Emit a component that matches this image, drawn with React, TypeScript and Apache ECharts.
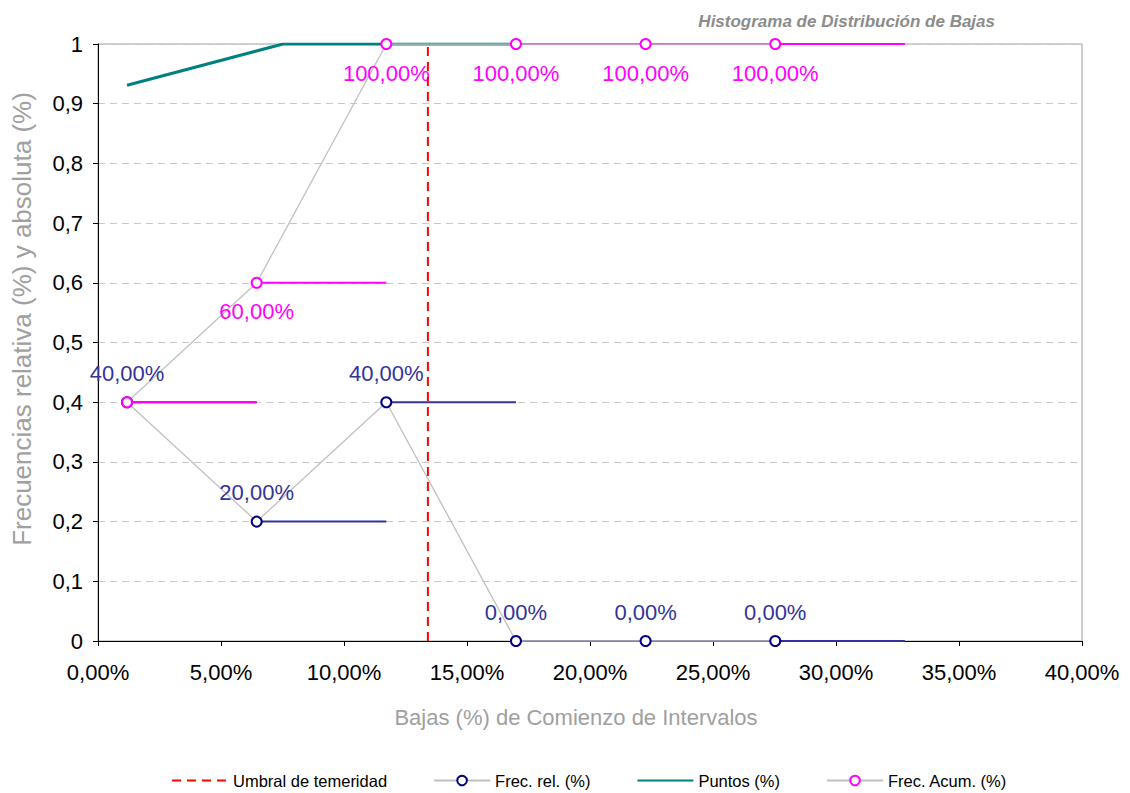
import React, { useEffect, useRef } from "react";
import * as echarts from "echarts";

const xStarts = [1.18, 6.45, 11.72, 16.99, 22.26, 27.53];
const xEnd = 32.8;
const frecRel = [0.4, 0.2, 0.4, 0, 0, 0];
const frecAcum = [0.4, 0.6, 1, 1, 1, 1];
const puntosX = [1.18, 7.52, 16.99];
const puntosY = [0.931, 1, 1];
const umbral = 13.41;
const xTicks = { min: 0, max: 40, interval: 5 };

const pct = (v: number) => (v * 100).toFixed(2).replace(".", ",") + "%";

export default function App() {
  const ref = useRef<HTMLDivElement>(null);
  useEffect(() => {
    if (!ref.current) return;
    const chart = echarts.init(ref.current, null, { renderer: "svg" });
    const font = "'Liberation Sans', Arial, sans-serif";
    const segSeries = (vals: number[], color: string) =>
      vals.map((v, i) => ({
        type: "line",
        silent: true,
        symbol: "none",
        z: 3,
        lineStyle: { color, width: 2 },
        data: [
          [xStarts[i], v],
          [i + 1 < xStarts.length ? xStarts[i + 1] : xEnd, v],
        ],
      }));
    const option: any = {
      animation: false,
      textStyle: { fontFamily: font },
      title: {
        text: "Histograma de Distribución de Bajas",
        right: 130,
        top: 8,
        textStyle: {
          fontSize: 17,
          fontStyle: "italic",
          fontWeight: "bold",
          color: "#8c8c8c",
          fontFamily: font,
        },
      },
      graphic: [
        {
          type: "text",
          x: 22,
          y: 319,
          rotation: Math.PI / 2,
          style: {
            text: "Frecuencias relativa (%) y absoluta (%)",
            fontSize: 26,
            fontFamily: font,
            fill: "#a0a0a0",
            align: "center",
            verticalAlign: "middle",
          },
        },
        {
          type: "text",
          x: 576,
          y: 717,
          style: {
            text: "Bajas (%) de Comienzo de Intervalos",
            fontSize: 22,
            fontFamily: font,
            fill: "#a0a0a0",
            align: "center",
            verticalAlign: "middle",
          },
        },
      ],
      grid: {
        left: 98,
        right: 48,
        top: 44,
        bottom: 152,
        show: true,
        borderColor: "#a0a0a0",
        borderWidth: 1,
      },
      legend: {
        top: 767,
        left: 166,
        itemWidth: 56,
        itemHeight: 12,
        itemGap: 46,
        textStyle: { fontSize: 16.5, color: "#000", fontFamily: font },
        data: [
          { name: "Umbral de temeridad", itemStyle: { opacity: 0 } },
          "Frec. rel. (%)",
          { name: "Puntos (%)", itemStyle: { opacity: 0 } },
          "Frec. Acum. (%)",
        ],
      },
      xAxis: {
        type: "value",
        min: xTicks.min,
        max: xTicks.max,
        interval: xTicks.interval,
        axisLine: { lineStyle: { color: "#000" } },
        axisTick: { show: true, length: 5, lineStyle: { color: "#000" } },
        axisLabel: {
          fontSize: 22,
          color: "#000",
          margin: 20,
          formatter: (v: number) => v.toFixed(2).replace(".", ",") + "%",
        },
        splitLine: { show: false },
      },
      yAxis: {
        type: "value",
        min: 0,
        max: 1,
        interval: 0.1,
        axisLine: { show: true, lineStyle: { color: "#000" } },
        axisTick: { show: true, length: 5, lineStyle: { color: "#000" } },
        axisLabel: {
          fontSize: 22,
          color: "#000",
          margin: 15,
          formatter: (v: number) =>
            Math.abs(v) < 1e-9 ? "0" : Math.abs(v - 1) < 1e-9 ? "1" : v.toFixed(1).replace(".", ","),
        },
        splitLine: { show: true, lineStyle: { color: "#c8c8c8", type: [7, 5] } },
      },
      series: [
        ...segSeries(frecRel, "#333399"),
        ...segSeries(frecAcum, "#ff00ff"),
        {
          name: "Puntos (%)",
          type: "line",
          symbol: "none",
          z: 4,
          lineStyle: { color: "#008080", width: 3 },
          itemStyle: { color: "#008080" },
          data: puntosX.map((x, i) => [x, puntosY[i]]),
        },
        {
          name: "Frec. rel. (%)",
          type: "line",
          symbol: "emptyCircle",
          symbolSize: 10,
          z: 5,
          lineStyle: { color: "#c0c0c0", width: 1.3 },
          itemStyle: { color: "#000080", borderColor: "#000080", borderWidth: 1.8 },
          label: {
            show: true,
            position: "top",
            distance: 12,
            fontSize: 22,
            color: "#333399",
            formatter: (p: any) => pct(p.value[1]),
          },
          data: xStarts.map((x, i) => [x, frecRel[i]]),
        },
        {
          name: "Frec. Acum. (%)",
          type: "line",
          symbol: "emptyCircle",
          symbolSize: 10,
          z: 5,
          lineStyle: { color: "#c0c0c0", width: 1.3 },
          itemStyle: { color: "#ff00ff", borderColor: "#ff00ff", borderWidth: 1.8 },
          label: {
            show: true,
            position: "bottom",
            distance: 12,
            fontSize: 22,
            color: "#ff00ff",
            formatter: (p: any) => pct(p.value[1]),
          },
          data: xStarts.map((x, i) =>
            i === 0 ? { value: [x, frecAcum[i]], label: { show: false } } : [x, frecAcum[i]]
          ),
        },
        {
          name: "Umbral de temeridad",
          type: "line",
          symbol: "none",
          z: 6,
          lineStyle: { color: "#ff0000", width: 2, type: [9, 6] },
          itemStyle: { color: "#ff0000" },
          data: [
            [umbral, 0],
            [umbral, 1],
          ],
        },
      ],
    };
    chart.setOption(option);
    return () => chart.dispose();
  }, []);
  return (
    <div
      ref={ref}
      style={{ position: "absolute", left: 0, top: 0, width: 1130, height: 793, background: "#fff" }}
    />
  );
}
